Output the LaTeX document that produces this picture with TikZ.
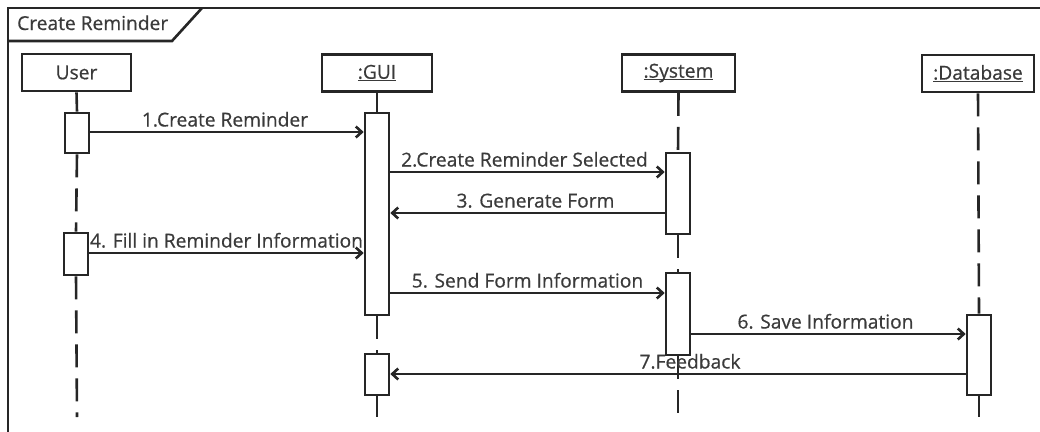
\documentclass[tikz,border=0pt]{standalone}
\usepackage{fontspec}
\setmainfont[FakeBold=0.6]{Open Sans}
\usetikzlibrary{arrows.meta}
\definecolor{ink}{HTML}{262626}
\definecolor{txt}{HTML}{3A3A3A}
% underlined object name, the rule sitting just under the baseline
\newcommand\objname[1]{\sbox0{#1}\rlap{\rule[-2.4pt]{\wd0}{1.4pt}}\usebox0}
\pgfdeclarelayer{bg}
\pgfsetlayers{bg,main}
\tikzset{
  stroke/.style={draw=ink, line width=2.6pt},
  head/.style={stroke, fill=white, minimum width=110pt, minimum height=37pt, inner sep=0pt, text=txt},
  bar/.style={stroke, fill=white, minimum width=24pt, inner sep=0pt},
  life/.style={stroke, dash pattern=on 23pt off 11pt},
  msg/.style={stroke, -{Straight Barb[length=6pt,width=11pt,line width=2.6pt]}},
  lbl/.style={midway, anchor=base, yshift=5.5pt, text=txt, inner sep=0pt},
}
\begin{document}
\begin{tikzpicture}[x=1pt, y=-1pt, font=\fontsize{19.2}{23}\selectfont]
\useasboundingbox (0,0) rectangle (1040,431);

% interaction frame with its name tab
\draw[stroke] (8,445) -- (8,8) -- (1050,8);
\draw[stroke] (8,41) -- (172,41) -- (202,8);
\node[anchor=base west, inner sep=0pt, text=txt] (title) at (17,30) {Create Reminder};

% lifeline heads
\node[head, minimum width=109pt] (user) at (76.5,72.5) {User};
\node[head] (gui) at (377,73) {\objname{:GUI}};
\node[head, minimum width=113pt] (sys) at (678.5,73) {\objname{:System}};
\node[head, minimum width=112pt] (db) at (978,73.5) {\objname{:Database}};

% activation bars
\node[bar, minimum height=40pt] (ua1) at (77,133) {};
\node[bar, minimum height=42pt] (ua2) at (76,254) {};
\node[bar, minimum height=202pt] (ga1) at (377,214) {};
\node[bar, minimum height=41pt] (ga2) at (377,374.5) {};
\node[bar, minimum height=81pt] (sa1) at (678,193.5) {};
\node[bar, minimum height=82pt] (sa2) at (678,314) {};
\node[bar, minimum height=80pt] (da1) at (979,355) {};

% lifeline ends
\coordinate (uend) at (77,417);
\coordinate (gend) at (377,417);
\coordinate (send) at (678,417);
\coordinate (dend) at (979,417);

% message heights
\coordinate (m1) at (0,132);
\coordinate (m2) at (0,172);
\coordinate (m3) at (0,213);
\coordinate (m4) at (0,253);
\coordinate (m5) at (0,293);
\coordinate (m6) at (0,334);
\coordinate (m7) at (0,374);

\begin{pgfonlayer}{bg}
  \draw[life] (user.south) -- (ua1.north);
  \draw[life] (ua1.south) -- (ua2.north);
  \draw[life] (ua2.south) -- (uend);
  \draw[life] (gui.south) -- (ga1.north);
  \draw[life] (ga1.south) -- (ga2.north);
  \draw[life] (ga2.south) -- (gend);
  \draw[life] (sys.south) -- (sa1.north);
  \draw[life] (sa1.south) -- (sa2.north);
  \draw[life] (sa2.south) -- (send);
  \draw[life] (db.south) -- (da1.north);
  \draw[life] (da1.south) -- (dend);
  % this label runs under the GUI bar
  \path (ua2.east |- m4) -- (ga1.west |- m4)
    node[lbl] (l4) {4. Fill in Reminder Information};
\end{pgfonlayer}

% messages
\draw[msg] (ua1.east |- m1) -- (ga1.west |- m1)
  node[lbl, xshift=-2pt] (l1) {1.Create Reminder};
\draw[msg] (ga1.east |- m2) -- (sa1.west |- m2)
  node[lbl, xshift=-3pt] (l2) {2.Create Reminder Selected};
\draw[msg] (sa1.west |- m3) -- (ga1.east |- m3)
  node[lbl, xshift=8pt] (l3) {3. Generate Form};
\draw[msg] (ua2.east |- m4) -- (ga1.west |- m4);
\draw[msg] (ga1.east |- m5) -- (sa2.west |- m5)
  node[lbl] (l5) {5. Send Form Information};
\draw[msg] (sa2.east |- m6) -- (da1.west |- m6)
  node[lbl, xshift=-3pt] (l6) {6. Save Information};
\draw[msg] (da1.west |- m7) -- (ga2.east |- m7)
  node[lbl, xshift=12pt] (l7) {7.Feedback};
\end{tikzpicture}
\end{document}
